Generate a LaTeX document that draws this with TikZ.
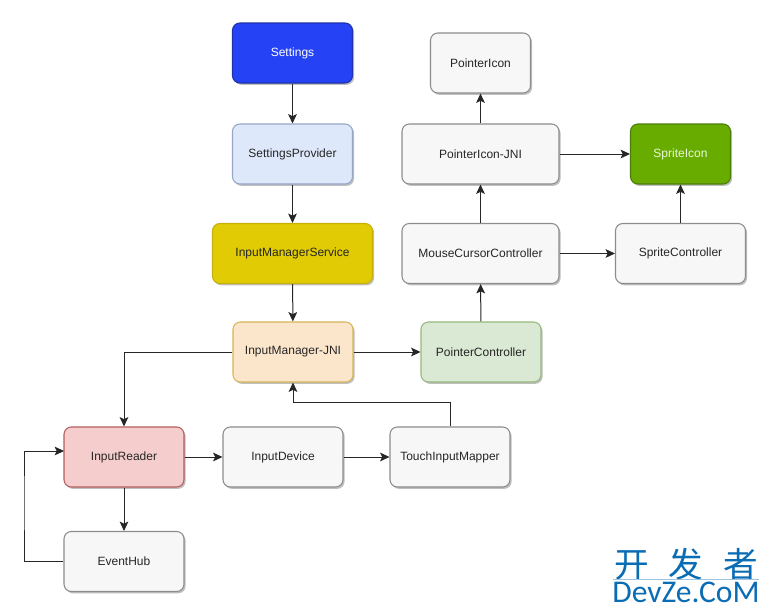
\documentclass[tikz,border=0pt]{standalone}
\usepackage{fontspec}
\setmainfont{Liberation Sans}
\newfontfamily\cjkwm{Noto Sans CJK SC}
\newfontfamily\latwm{Carlito}
\usetikzlibrary{arrows.meta,shadows,calc}
\definecolor{wm}{HTML}{0A6CB4}
\definecolor{cSetF}{RGB}{37,67,245}\definecolor{cSetD}{RGB}{30,50,170}
\definecolor{cProF}{RGB}{222,232,251}\definecolor{cProD}{RGB}{150,165,200}
\definecolor{cImsF}{RGB}{224,203,5}\definecolor{cImsD}{RGB}{200,175,10}
\definecolor{cJniF}{RGB}{252,230,203}\definecolor{cJniD}{RGB}{214,182,86}
\definecolor{cPcF}{RGB}{218,233,212}\definecolor{cPcD}{RGB}{150,185,125}
\definecolor{cRdF}{RGB}{246,205,205}\definecolor{cRdD}{RGB}{180,95,95}
\definecolor{cSpF}{RGB}{104,172,0}\definecolor{cSpD}{RGB}{75,125,10}
\definecolor{cSpT}{RGB}{232,250,215}
\tikzset{
  box/.style={draw=#1,rounded corners=5.5pt,line width=0.8pt,font=\fontsize{9pt}{11pt}\selectfont,text=black!85,anchor=center,inner sep=0pt,
    drop shadow={shadow xshift=1.2pt,shadow yshift=-1.4pt,opacity=0.25,fill=black}},
  conn/.style={draw=black!85,line width=0.75pt,-{Stealth[length=7pt,width=6.5pt,inset=1.5pt]}},
  gbox/.style={box=black!45,fill=black!3},
  wmtext/.style={text=wm,inner sep=0pt,anchor=center}
}
\newcommand{\bx}[7]{\node[#1,minimum width=#4*0.75pt,minimum height=#5*0.75pt] (#2) at (#6,#7) {#3};}
\begin{document}
\begin{tikzpicture}[x=0.75pt,y=-0.75pt]
\useasboundingbox (0,0) rectangle (769,614);
\fill[white] (0,0) rectangle (769,614);
\bx{box=cSetD,fill=cSetF,text=white}{settings}{Settings}{120}{60}{292.5}{53}
\bx{box=cProD,fill=cProF}{provider}{SettingsProvider}{120}{60}{292.5}{154}
\bx{box=cImsD,fill=cImsF}{ims}{InputManagerService}{160}{60}{292.5}{253.5}
\bx{box=cJniD,fill=cJniF}{jni}{InputManager-JNI}{120}{60}{293}{352}
\bx{box=cPcD,fill=cPcF}{pc}{PointerController}{120}{60}{481}{352}
\bx{box=cRdD,fill=cRdF}{reader}{InputReader}{120}{60}{124}{457}
\bx{gbox}{device}{InputDevice}{120}{60}{283}{457}
\bx{gbox}{mapper}{TouchInputMapper}{120}{60}{450}{457}
\bx{gbox}{hub}{EventHub}{120}{60}{124}{561.5}
\bx{gbox}{icon}{PointerIcon}{100}{60}{480.5}{63}
\bx{gbox}{iconjni}{PointerIcon-JNI}{157}{60}{480.5}{154}
\bx{box=cSpD,fill=cSpF,text=cSpT}{sprite}{SpriteIcon}{100}{60}{680.5}{154}
\bx{gbox}{mouse}{MouseCursorController}{157}{60}{480.5}{253.5}
\bx{gbox}{spritec}{SpriteController}{130}{60}{680.5}{253.5}
\coordinate (rin) at (64,451);
\coordinate (lx) at (24,500);
\coordinate (jog) at (450,402);
\draw[conn] (settings) -- (provider);
\draw[conn] (provider) -- (ims);
\draw[conn] (ims) -- (jni);
\draw[conn] (jni) -- (pc);
\draw[conn] (jni.west) -| (reader.north);
\draw[conn] (reader) -- (device);
\draw[conn] (device) -- (mapper);
\draw[conn] (reader) -- (hub);
\draw[conn] (hub.west) -| (lx) |- (rin);
\draw[conn] (mapper.north) -- (jog) -| (jni.south);
\draw[conn] (pc) -- (mouse);
\draw[conn] (mouse) -- (iconjni);
\draw[conn] (iconjni) -- (icon);
\draw[conn] (iconjni) -- (sprite);
\draw[conn] (mouse) -- (spritec);
\draw[conn] (spritec) -- (sprite);
\node[wmtext,font=\cjkwm\fontsize{26pt}{28pt}\selectfont] (wm1) at (686,564) {开\hspace{15pt}发\hspace{15pt}者};
\node[wmtext,font=\latwm\fontsize{23.7pt}{26pt}\selectfont] (wm2) at (686,592) {DevZe.CoM};
\draw[wm!40,line width=0.5pt] (613,579.5) -- (759,579.5);
\end{tikzpicture}
\end{document}
